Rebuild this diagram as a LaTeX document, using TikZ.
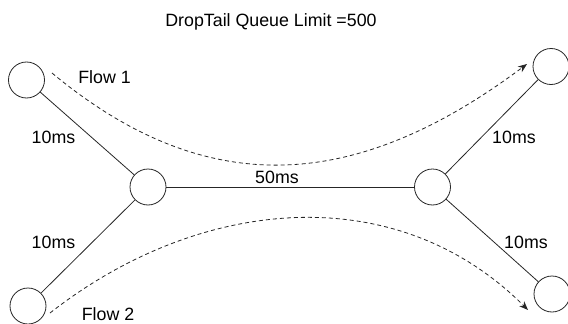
\documentclass[tikz,border=0pt]{standalone}
\usepackage{fontspec}
\setmainfont{Liberation Sans}
\usetikzlibrary{arrows.meta}
\begin{document}
\begin{tikzpicture}[x=1pt,y=-1pt,
  router/.style={circle,draw=black!85,line width=0.8pt,minimum size=36pt,inner sep=0pt},
  link/.style={draw=black!85,line width=0.8pt},
  flowline/.style={draw=black!85,line width=0.8pt,dash pattern=on 4pt off 3pt,-{Stealth[length=9pt,width=7pt]}},
  lbl/.style={inner sep=0pt,anchor=base,font=\fontsize{17.8}{20}\selectfont}]
\useasboundingbox (0,0) rectangle (568,324);
\node[router] (tl) at (26.5,80) {};
\node[router] (tr) at (551,66.5) {};
\node[router] (cl) at (148,187) {};
\node[router] (cr) at (432.5,187) {};
\node[router] (bl) at (28,306) {};
\node[router] (br) at (552,294) {};
\draw[link] (tl) -- (cl);
\draw[link] (bl) -- (cl);
\draw[link] (cl) -- (cr);
\draw[link] (cr) -- (tr);
\draw[link] (cr) -- (br);
\node[lbl] (title) at (271,27) {DropTail Queue Limit =500};
\node[lbl] (f1) at (104.5,83) {Flow 1};
\node[lbl] (f2) at (108,320) {Flow 2};
\node[lbl] (d1) at (53.5,143) {10ms};
\node[lbl] (d2) at (53.5,248) {10ms};
\node[lbl] (d3) at (514,143) {10ms};
\node[lbl] (d4) at (526,248) {10ms};
\node[lbl] (d5) at (277,183) {50ms};
\coordinate (f1s) at (52,73);
\coordinate (f1e) at (527,64);
\coordinate (f2s) at (50,313);
\coordinate (f2e) at (528,310);
\draw[flowline] (f1s) .. controls (211,205) and (361,188) .. (f1e);
\draw[flowline] (f2s) .. controls (198,197) and (395,177) .. (f2e);
\end{tikzpicture}
\end{document}
